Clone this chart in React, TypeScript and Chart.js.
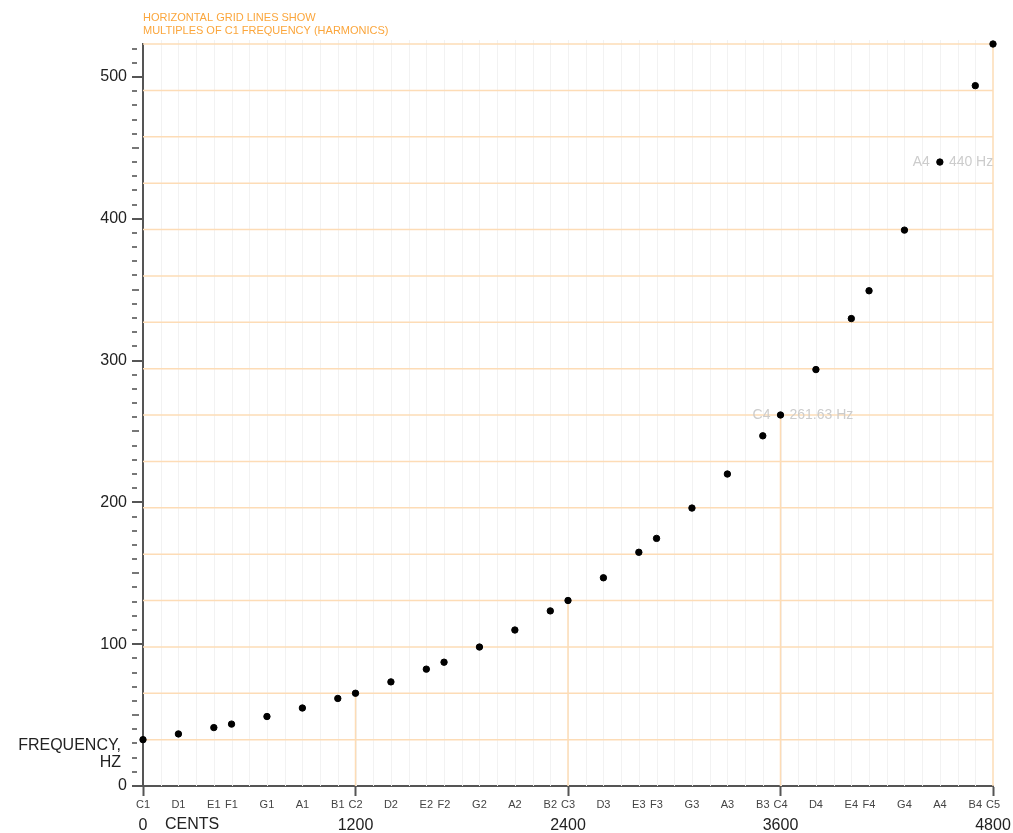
import { useEffect, useRef } from 'react';
import { Chart, registerables } from 'chart.js';

Chart.register(...registerables);

// Natural notes C1..C5, their pitch in cents above C1 and frequency in Hz
const noteNames = [
  'C1', 'D1', 'E1', 'F1', 'G1', 'A1', 'B1',
  'C2', 'D2', 'E2', 'F2', 'G2', 'A2', 'B2',
  'C3', 'D3', 'E3', 'F3', 'G3', 'A3', 'B3',
  'C4', 'D4', 'E4', 'F4', 'G4', 'A4', 'B4',
  'C5',
];
const noteCents = [
  0, 200, 400, 500, 700, 900, 1100,
  1200, 1400, 1600, 1700, 1900, 2100, 2300,
  2400, 2600, 2800, 2900, 3100, 3300, 3500,
  3600, 3800, 4000, 4100, 4300, 4500, 4700,
  4800,
];
const noteFreqs = [
  32.7, 36.71, 41.2, 43.65, 49.0, 55.0, 61.74,
  65.41, 73.42, 82.41, 87.31, 98.0, 110.0, 123.47,
  130.81, 146.83, 164.81, 174.61, 196.0, 220.0, 246.94,
  261.63, 293.66, 329.63, 349.23, 392.0, 440.0, 493.88,
  523.25,
];

// Axis ticks
const octaveCents = [0, 1200, 2400, 3600, 4800];
const octaveLabels = ['0', '1200', '2400', '3600', '4800'];
const yTickValues = [0, 100, 200, 300, 400, 500];
const yMinorStep = 10;
const yMax = 523.25;
const xMax = 4800;
const semitoneCents = 100;

// Harmonic series of C1 used for the horizontal guide lines
const fundamentalHz = 32.703;
const harmonicNumbers = [1, 2, 3, 4, 5, 6, 7, 8, 9, 10, 11, 12, 13, 14, 15, 16];

// Notes called out with their frequency
const calloutNotes = ['C4', 'A4'];

const FONT = "'Liberation Sans', Arial, sans-serif";
const ORANGE_LINE = '#fddcb6';
const ORANGE_TEXT = '#fba63c';
const AXIS = '#555555';

const decorPlugin = {
  id: 'decor',
  beforeDatasetsDraw(chart: any) {
    const { ctx, chartArea, scales } = chart;
    const x = scales.x;
    const y = scales.y;
    ctx.save();
    // faint semitone grid
    ctx.strokeStyle = '#f2f2f2';
    ctx.lineWidth = 1;
    for (let c = semitoneCents; c < xMax; c += semitoneCents) {
      const px = Math.round(x.getPixelForValue(c)) + 0.5;
      ctx.beginPath();
      ctx.moveTo(px, chartArea.top - 4);
      ctx.lineTo(px, chartArea.bottom);
      ctx.stroke();
    }
    // harmonic lines
    ctx.strokeStyle = ORANGE_LINE;
    ctx.lineWidth = 1.5;
    harmonicNumbers.forEach((n) => {
      const py = y.getPixelForValue(n * fundamentalHz);
      ctx.beginPath();
      ctx.moveTo(chartArea.left, py);
      ctx.lineTo(chartArea.right, py);
      ctx.stroke();
    });
    // drop lines from each octave C down to the axis
    noteNames.forEach((name, i) => {
      if (!name.startsWith('C') || noteCents[i] === 0) return;
      const px = x.getPixelForValue(noteCents[i]);
      ctx.beginPath();
      ctx.moveTo(px, chartArea.bottom);
      ctx.lineTo(px, y.getPixelForValue(noteFreqs[i]));
      ctx.stroke();
    });
    ctx.restore();
  },
  afterDraw(chart: any) {
    const { ctx, chartArea, scales } = chart;
    const x = scales.x;
    const y = scales.y;
    ctx.save();
    // y axis tick marks (major, half and minor)
    ctx.lineWidth = 2;
    for (let v = 0; v <= yMax; v += yMinorStep) {
      const py = Math.round(y.getPixelForValue(v));
      const x0 = chartArea.left - 11;
      let x1 = chartArea.left - 6;
      if (v % 100 === 0) x1 = chartArea.left;
      else if (v % 50 === 0) x1 = chartArea.left - 4;
      ctx.strokeStyle = v % 100 === 0 ? AXIS : '#777777';
      ctx.beginPath();
      ctx.moveTo(x0, py);
      ctx.lineTo(x1, py);
      ctx.stroke();
    }

    // note annotation
    ctx.fillStyle = ORANGE_TEXT;
    ctx.font = `11px ${FONT}`;
    ctx.textAlign = 'left';
    ctx.textBaseline = 'middle';
    ctx.fillText('HORIZONTAL GRID LINES SHOW', chartArea.left, 18);
    ctx.fillText('MULTIPLES OF C1 FREQUENCY (HARMONICS)', chartArea.left, 31);

    // y axis title
    ctx.fillStyle = '#222222';
    ctx.font = `16px ${FONT}`;
    ctx.textAlign = 'right';
    ctx.fillText('FREQUENCY,', 121, 746);
    ctx.fillText('HZ', 121, 763);

    // x axis title
    ctx.textAlign = 'left';
    ctx.fillText('CENTS', x.getPixelForValue(0) + 22, 825);

    // callouts
    ctx.fillStyle = '#cccccc';
    ctx.font = `14px ${FONT}`;
    calloutNotes.forEach((name) => {
      const i = noteNames.indexOf(name);
      const px = x.getPixelForValue(noteCents[i]);
      const py = y.getPixelForValue(noteFreqs[i]);
      ctx.textAlign = 'right';
      ctx.fillText(name, px - 10, py);
      ctx.textAlign = 'left';
      ctx.fillText(`${noteFreqs[i]} Hz`, px + 9, py);
    });
    ctx.restore();
  },
};

export default function App() {
  const canvasRef = useRef<HTMLCanvasElement | null>(null);

  useEffect(() => {
    document.body.style.margin = '0';
    document.body.style.overflow = 'hidden';
    const canvas = canvasRef.current;
    if (!canvas) return;

    const chart = new Chart(canvas, {
      type: 'scatter',
      data: {
        datasets: [
          {
            data: noteCents.map((c, i) => ({ x: c, y: noteFreqs[i] })),
            backgroundColor: '#000000',
            borderColor: '#000000',
            pointRadius: 3.2,
            pointHoverRadius: 3.2,
            clip: false as any,
          },
        ],
      },
      options: {
        responsive: false,
        animation: false,
        events: [],
        layout: { padding: { top: 44, right: 20, left: 0, bottom: 0 } },
        plugins: {
          legend: { display: false },
          tooltip: { enabled: false },
        },
        scales: {
          x: {
            type: 'linear',
            position: 'bottom',
            min: 0,
            max: xMax,
            afterBuildTicks: (s: any) => {
              s.ticks = noteCents.map((c) => ({ value: c }));
            },
            afterFit: (s: any) => {
              s.height = 22;
              s.paddingLeft = 0;
              s.paddingRight = 0;
            },
            ticks: {
              autoSkip: false,
              maxRotation: 0,
              padding: 2,
              color: '#444444',
              font: { family: FONT, size: 11 },
              callback: (_v: any, i: number) => noteNames[i],
            },
            grid: {
              drawOnChartArea: false,
              drawTicks: true,
              tickLength: 10,
              tickWidth: 2,
              tickColor: (ctx: any) =>
                ctx.tick && octaveCents.includes(ctx.tick.value) ? AXIS : 'rgba(0,0,0,0)',
            },
            border: { display: true, color: AXIS, width: 2 },
          },
          x2: {
            type: 'linear',
            position: 'bottom',
            weight: 1,
            min: 0,
            max: xMax,
            afterBuildTicks: (s: any) => {
              s.ticks = octaveCents.map((c) => ({ value: c }));
            },
            afterFit: (s: any) => {
              s.height = 25;
              s.paddingLeft = 0;
              s.paddingRight = 0;
            },
            ticks: {
              autoSkip: false,
              maxRotation: 0,
              padding: 8,
              color: '#222222',
              font: { family: FONT, size: 16 },
              callback: (_v: any, i: number) => octaveLabels[i],
            },
            grid: { display: false, drawTicks: false },
            border: { display: false },
          },
          y: {
            type: 'linear',
            position: 'left',
            min: 0,
            max: yMax,
            afterBuildTicks: (s: any) => {
              s.ticks = yTickValues.map((v) => ({ value: v }));
            },
            afterFit: (s: any) => {
              s.width = 143;
            },
            ticks: {
              padding: 16,
              color: '#222222',
              font: { family: FONT, size: 16 },
              callback: (v: any) => String(v),
            },
            grid: { drawOnChartArea: false, drawTicks: false },
            border: { display: true, color: AXIS, width: 2 },
          },
        },
      },
      plugins: [decorPlugin],
    });

    return () => chart.destroy();
  }, []);

  return <canvas ref={canvasRef} width={1013} height={833} style={{ display: 'block' }} />;
}
